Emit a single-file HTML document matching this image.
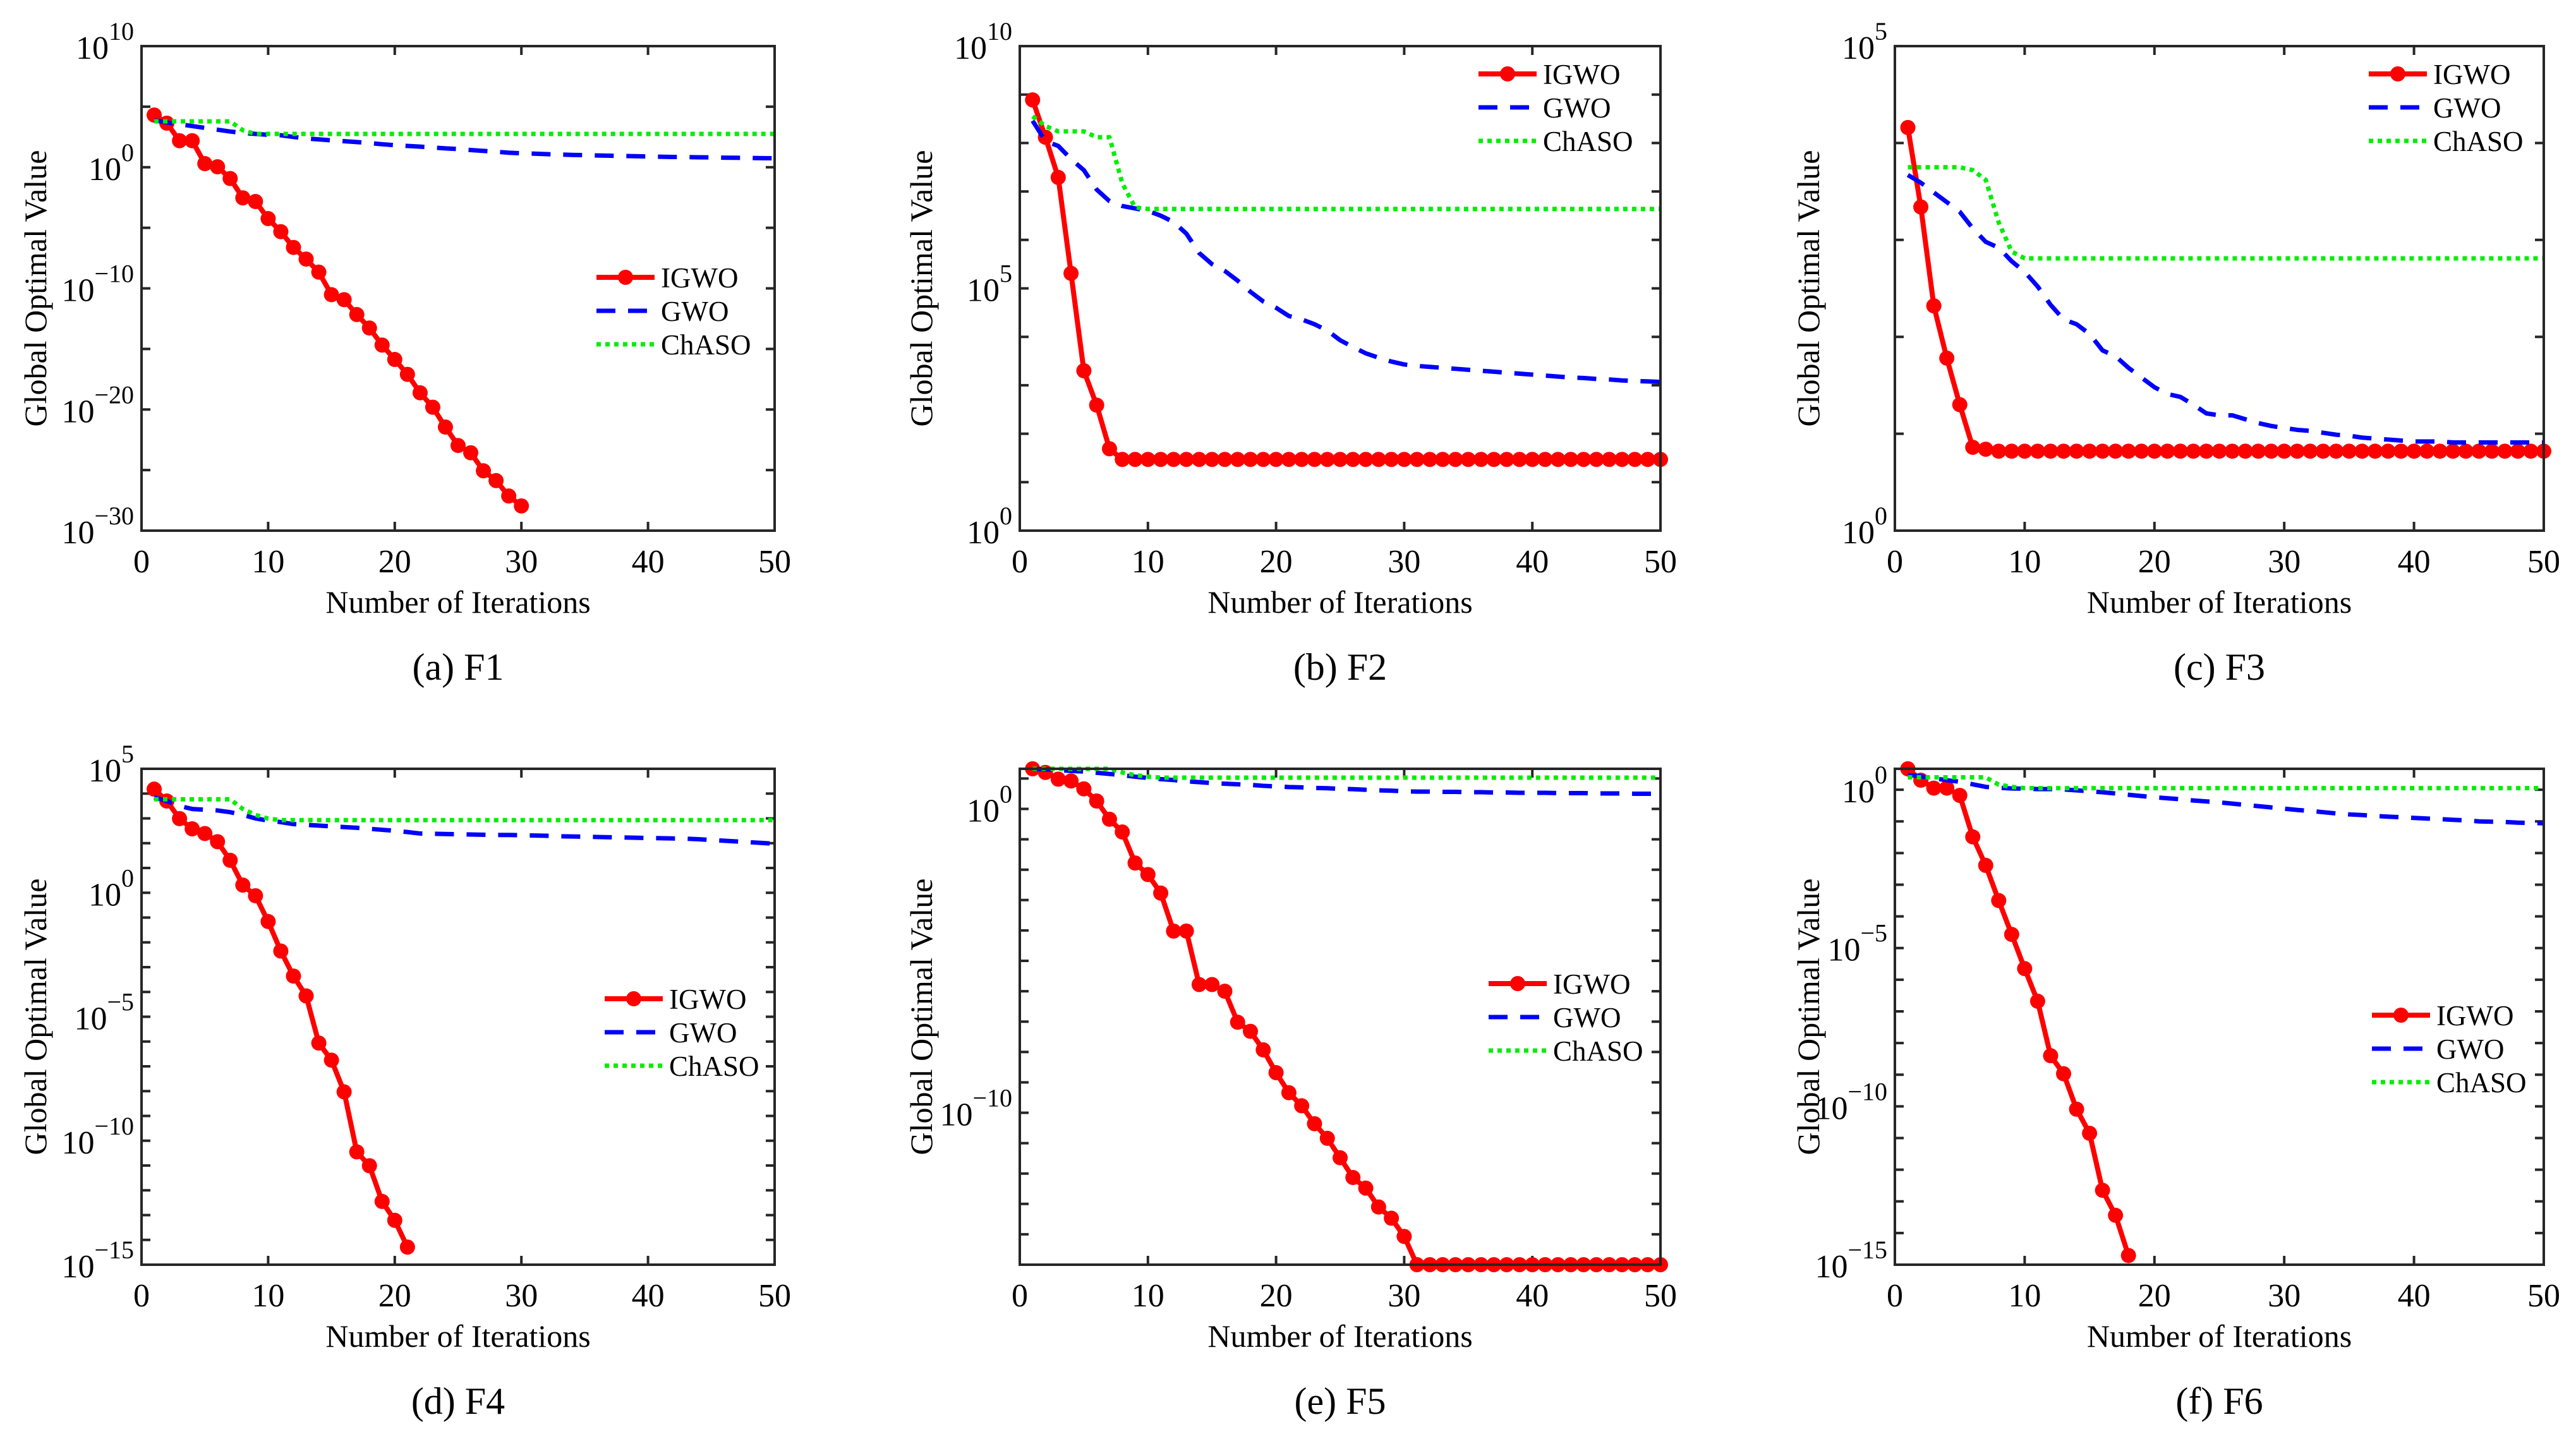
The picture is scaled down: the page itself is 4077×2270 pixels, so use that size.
<!DOCTYPE html>
<html><head><meta charset="utf-8">
<style>
html,body{margin:0;padding:0;background:#fff;}
svg{display:block;}
text{font-family:"Liberation Serif","Times New Roman",serif;fill:#000;}
</style></head>
<body>
<svg id="fig" width="4077" height="2270" viewBox="0 0 4077 2270" xmlns="http://www.w3.org/2000/svg"></svg>
<script>
// ---- data (log10 of global optimal value), iterations start at 1 ----
const iterMax = 50;
const seriesNames = ["IGWO","GWO","ChASO"];
const xTicks = [0,10,20,30,40,50];

const igwoA = [4.31,3.64,2.19,2.19,0.30,0.04,-0.93,-2.53,-2.83,-4.24,-5.32,-6.62,-7.58,-8.66,-10.52,-10.93,-12.16,-13.27,-14.68,-15.87,-17.10,-18.62,-19.81,-21.45,-22.97,-23.57,-25.06,-25.87,-27.14,-27.96];
const gwoA = [3.87,3.7,3.55,3.4,3.25,3.1,2.95,2.83,2.75,2.68,2.64,2.5,2.38,2.3,2.22,2.15,2.08,2.0,1.9,1.82,1.76,1.7,1.63,1.56,1.5,1.42,1.35,1.28,1.2,1.15,1.12,1.08,1.05,1.02,1.0,0.97,0.95,0.93,0.91,0.89,0.87,0.85,0.84,0.82,0.81,0.79,0.78,0.77,0.75,0.74];
const chasoA = [3.79,3.79,3.79,3.79,3.79,3.79,3.79,3.05,2.75,2.75,2.75,2.75,2.75,2.75,2.75,2.75,2.75,2.75,2.75,2.75,2.75,2.75,2.75,2.75,2.75,2.75,2.75,2.75,2.75,2.75,2.75,2.75,2.75,2.75,2.75,2.75,2.75,2.75,2.75,2.75,2.75,2.75,2.75,2.75,2.75,2.75,2.75,2.75,2.75,2.75];

const igwoB = [8.89,8.12,7.29,5.31,3.30,2.59,1.69,1.47,1.47,1.47,1.47,1.47,1.47,1.47,1.47,1.47,1.47,1.47,1.47,1.47,1.47,1.47,1.47,1.47,1.47,1.47,1.47,1.47,1.47,1.47,1.47,1.47,1.47,1.47,1.47,1.47,1.47,1.47,1.47,1.47,1.47,1.47,1.47,1.47,1.47,1.47,1.47,1.47,1.47,1.47];
const gwoB = [8.46,8.04,7.94,7.67,7.44,7.04,6.80,6.70,6.65,6.60,6.50,6.37,6.13,5.73,5.50,5.36,5.16,4.93,4.73,4.60,4.43,4.36,4.26,4.13,3.93,3.79,3.66,3.57,3.49,3.43,3.40,3.38,3.36,3.34,3.32,3.30,3.28,3.26,3.24,3.22,3.20,3.18,3.16,3.15,3.13,3.12,3.10,3.09,3.08,3.07];
const chasoB = [8.55,8.35,8.24,8.24,8.24,8.12,8.12,7.17,6.67,6.64,6.64,6.64,6.64,6.64,6.64,6.64,6.64,6.64,6.64,6.64,6.64,6.64,6.64,6.64,6.64,6.64,6.64,6.64,6.64,6.64,6.64,6.64,6.64,6.64,6.64,6.64,6.64,6.64,6.64,6.64,6.64,6.64,6.64,6.64,6.64,6.64,6.64,6.64,6.64,6.64];

const igwoC = [4.16,3.34,2.32,1.78,1.30,0.86,0.84,0.82,0.82,0.82,0.82,0.82,0.82,0.82,0.82,0.82,0.82,0.82,0.82,0.82,0.82,0.82,0.82,0.82,0.82,0.82,0.82,0.82,0.82,0.82,0.82,0.82,0.82,0.82,0.82,0.82,0.82,0.82,0.82,0.82,0.82,0.82,0.82,0.82,0.82,0.82,0.82,0.82,0.82,0.82];
const gwoC = [3.67,3.59,3.49,3.39,3.29,3.12,2.98,2.92,2.78,2.67,2.52,2.33,2.18,2.13,2.03,1.86,1.80,1.68,1.58,1.48,1.41,1.38,1.30,1.21,1.19,1.19,1.15,1.11,1.08,1.06,1.04,1.03,1.01,0.99,0.98,0.96,0.95,0.94,0.93,0.92,0.92,0.92,0.91,0.91,0.91,0.91,0.91,0.91,0.91,0.91];
const chasoC = [3.75,3.75,3.75,3.75,3.75,3.72,3.62,3.18,2.88,2.81,2.81,2.81,2.81,2.81,2.81,2.81,2.81,2.81,2.81,2.81,2.81,2.81,2.81,2.81,2.81,2.81,2.81,2.81,2.81,2.81,2.81,2.81,2.81,2.81,2.81,2.81,2.81,2.81,2.81,2.81,2.81,2.81,2.81,2.81,2.81,2.81,2.81,2.81,2.81,2.81];

const igwoD = [4.18,3.70,2.99,2.58,2.39,2.06,1.31,0.31,-0.12,-1.16,-2.35,-3.36,-4.16,-6.06,-6.75,-8.03,-10.45,-11.01,-12.45,-13.21,-14.29];
const gwoD = [3.85,3.7,3.5,3.38,3.35,3.32,3.25,3.14,3.0,2.91,2.85,2.77,2.74,2.71,2.68,2.65,2.62,2.58,2.54,2.5,2.45,2.39,2.38,2.37,2.36,2.35,2.34,2.33,2.33,2.32,2.31,2.3,2.28,2.27,2.26,2.25,2.24,2.23,2.22,2.21,2.2,2.19,2.18,2.16,2.13,2.1,2.07,2.04,2.01,1.98];
const chasoD = [3.77,3.77,3.77,3.77,3.77,3.77,3.77,3.38,3.14,2.99,2.93,2.93,2.93,2.93,2.93,2.93,2.93,2.93,2.93,2.93,2.93,2.93,2.93,2.93,2.93,2.93,2.93,2.93,2.93,2.93,2.93,2.93,2.93,2.93,2.93,2.93,2.93,2.93,2.93,2.93,2.93,2.93,2.93,2.93,2.93,2.93,2.93,2.93,2.93,2.93];

const igwoE = [1.32,1.2,0.98,0.92,0.66,0.26,-0.34,-0.76,-1.78,-2.16,-2.77,-4.02,-4.02,-5.78,-5.78,-6.0,-7.02,-7.32,-7.93,-8.68,-9.34,-9.77,-10.36,-10.84,-11.48,-12.13,-12.48,-13.1,-13.47,-14.07,-15,-15,-15,-15,-15,-15,-15,-15,-15,-15,-15,-15,-15,-15,-15,-15,-15,-15,-15,-15];
const gwoE = [1.32,1.3,1.28,1.25,1.23,1.19,1.15,1.11,1.06,1.02,0.98,0.95,0.91,0.88,0.85,0.83,0.81,0.79,0.76,0.74,0.72,0.71,0.69,0.68,0.66,0.65,0.63,0.61,0.6,0.58,0.57,0.57,0.56,0.56,0.55,0.55,0.54,0.54,0.53,0.53,0.53,0.52,0.52,0.52,0.51,0.51,0.51,0.5,0.5,0.5];
const chasoE = [1.32,1.32,1.32,1.32,1.32,1.32,1.32,1.2,1.11,1.06,1.03,1.03,1.03,1.03,1.03,1.03,1.03,1.03,1.03,1.03,1.03,1.03,1.03,1.03,1.03,1.03,1.03,1.03,1.03,1.03,1.03,1.03,1.03,1.03,1.03,1.03,1.03,1.03,1.03,1.03,1.03,1.03,1.03,1.03,1.03,1.03,1.03,1.03,1.03,1.03];

const igwoF = [0.66,0.30,0.05,0.05,-0.18,-1.49,-2.39,-3.50,-4.57,-5.65,-6.68,-8.40,-8.97,-10.09,-10.85,-12.65,-13.44,-14.71];
const gwoF = [0.47,0.42,0.36,0.3,0.25,0.17,0.09,0.06,0.04,0.03,0.02,0.02,0.01,-0.02,-0.05,-0.08,-0.12,-0.16,-0.2,-0.24,-0.27,-0.3,-0.34,-0.37,-0.4,-0.44,-0.48,-0.52,-0.56,-0.6,-0.64,-0.67,-0.71,-0.75,-0.78,-0.8,-0.83,-0.85,-0.87,-0.89,-0.91,-0.93,-0.95,-0.97,-1.0,-1.01,-1.02,-1.04,-1.05,-1.06];
const chasoF = [0.39,0.39,0.39,0.39,0.39,0.39,0.39,0.16,0.09,0.05,0.05,0.05,0.05,0.05,0.05,0.05,0.05,0.05,0.05,0.05,0.05,0.05,0.05,0.05,0.05,0.05,0.05,0.05,0.05,0.05,0.05,0.05,0.05,0.05,0.05,0.05,0.05,0.05,0.05,0.05,0.05,0.05,0.05,0.05,0.05,0.05,0.05,0.05,0.05,0.05];

const yTicksA = [-30,-25,-20,-15,-10,-5,0,5,10], yLabelsA = [-30,-20,-10,0,10];
const yTicksB = [0,1,2,3,4,5,6,7,8,9,10], yLabelsB = [0,5,10];
const yTicksC = [0,1,2,3,4,5], yLabelsC = [0,5];
const yTicksD = [-15,-14,-13,-12,-11,-10,-9,-8,-7,-6,-5,-4,-3,-2,-1,0,1,2,3,4,5], yLabelsD = [-15,-10,-5,0,5];
const yTicksE = [-15,-14,-13,-12,-11,-10,-9,-8,-7,-6,-5,-4,-3,-2,-1,0,1], yLabelsE = [-10,0];
const yTicksF = [-15,-14,-13,-12,-11,-10,-9,-8,-7,-6,-5,-4,-3,-2,-1,0], yLabelsF = [-15,-10,-5,0];
const captions = ["(a) F1","(b) F2","(c) F3","(d) F4","(e) F5","(f) F6"];

// ---- layout ----
const NS = "http://www.w3.org/2000/svg";
const svg = document.getElementById("fig");
function mk(tag, attrs, parent){ const e=document.createElementNS(NS,tag); for(const k in attrs) e.setAttribute(k,attrs[k]); (parent||svg).appendChild(e); return e; }

const panels = [
 {id:"a", x0:224,x1:1226,y0:73,y1:840, ymin:-30,ymax:10, ticks:yTicksA, labels:yLabelsA, data:[igwoA,gwoA,chasoA], leg:[944,439], ylab:57, cap:0},
 {id:"b", x0:1614,x1:2628,y0:73,y1:840, ymin:0,ymax:10, ticks:yTicksB, labels:yLabelsB, data:[igwoB,gwoB,chasoB], leg:[2340,117], ylab:1459, cap:1},
 {id:"c", x0:2999,x1:4026,y0:73,y1:840, ymin:0,ymax:5, ticks:yTicksC, labels:yLabelsC, data:[igwoC,gwoC,chasoC], leg:[3749,117], ylab:2863, cap:2},
 {id:"d", x0:224,x1:1226,y0:1217,y1:2002, ymin:-15,ymax:5, ticks:yTicksD, labels:yLabelsD, data:[igwoD,gwoD,chasoD], leg:[957,1581], ylab:57, cap:3},
 {id:"e", x0:1614,x1:2628,y0:1217,y1:2002, ymin:-15,ymax:1.32, ticks:yTicksE, labels:yLabelsE, data:[igwoE,gwoE,chasoE], leg:[2356,1557], ylab:1459, cap:4},
 {id:"f", x0:2999,x1:4026,y0:1217,y1:2002, ymin:-15,ymax:0.66, ticks:yTicksF, labels:yLabelsF, data:[igwoF,gwoF,chasoF], leg:[3754,1607], ylab:2863, cap:5}
];
const styles = [
 {stroke:"#ff0000", w:8, dash:null},
 {stroke:"#0000ff", w:7, dash:"30 20"},
 {stroke:"#00ee00", w:7, dash:"7 7"}
];

panels.forEach(p=>{
  const g = mk("g",{});
  
  
  const sx = v => p.x0 + (v/iterMax)*(p.x1-p.x0);
  const sy = v => p.y1 - (v-p.ymin)/(p.ymax-p.ymin)*(p.y1-p.y0);
  const clip = mk("clipPath",{id:"clip"+p.id},g);
  mk("rect",{x:p.x0,y:p.y0-14,width:p.x1-p.x0+14,height:p.y1-p.y0+28},clip);

  xTicks.forEach(t=>{
    const x=sx(t);
    const tk = mk("path",{d:`M${x},${p.y1}v-14M${x},${p.y0}v14`,stroke:"#262626","stroke-width":4},g);
    
    
    const tl = mk("text",{x:x,y:p.y1+66,"font-size":52,"text-anchor":"middle"},g);
    tl.textContent = t;
    
    
  });
  p.ticks.forEach(t=>{
    const y=sy(t);
    const tk = mk("path",{d:`M${p.x0},${y}h14M${p.x1},${y}h-14`,stroke:"#262626","stroke-width":4},g);
    
    
  });
  p.labels.forEach(t=>{
    const y=sy(t);
    const tl = mk("text",{x:p.x0-12,y:y+20,"font-size":52,"text-anchor":"end"},g);
    const b = mk("tspan",{},tl); b.textContent="10";
    const e = mk("tspan",{dy:-30,"font-size":40},tl); e.textContent=(t<0?"\u2212"+(-t):String(t));
    
    
  });

  p.data.forEach((arr,si)=>{
    const st=styles[si];
    const pts = arr.map((v,i)=>[sx(i+1),sy(v)]);
    const pl = mk("polyline",{points:pts.map(q=>q.join(",")).join(" "),fill:"none",stroke:st.stroke,"stroke-width":st.w,"stroke-linejoin":"round","clip-path":`url(#clip${p.id})`},g);
    if(st.dash) pl.setAttribute("stroke-dasharray",st.dash);
    
    
    if(si===0){
      pts.forEach(q=>{
        const c = mk("circle",{cx:q[0],cy:q[1],r:12,fill:st.stroke},g);
        
        
      });
    }
  });

  const box = mk("rect",{x:p.x0,y:p.y0,width:p.x1-p.x0,height:p.y1-p.y0,fill:"none",stroke:"#262626","stroke-width":4},g);
  
  

  const lg = mk("g",{},g);
  
  
  seriesNames.forEach((nm,si)=>{
    const st=styles[si];
    const y = p.leg[1] + si*53;
    const ln = mk("line",{x1:p.leg[0],x2:p.leg[0]+92,y1:y,y2:y,stroke:st.stroke,"stroke-width":st.w},lg);
    if(st.dash) ln.setAttribute("stroke-dasharray",st.dash);
    
    
    if(si===0){ mk("circle",{cx:p.leg[0]+46,cy:y,r:12,fill:st.stroke},lg); }
    const t = mk("text",{x:p.leg[0]+102,y:y+16,"font-size":45},lg);
    t.textContent = nm;
    
    
  });

  const xt = mk("text",{x:(p.x0+p.x1)/2,y:p.y1+130,"font-size":50,"text-anchor":"middle"},g);
  xt.textContent="Number of Iterations";
  
  
  const cy=(p.y0+p.y1)/2;
  const yt = mk("text",{x:p.ylab+16,y:cy,"font-size":50,"text-anchor":"middle",transform:`rotate(-90 ${p.ylab+16} ${cy})`},g);
  yt.textContent="Global Optimal Value";
  
  
  const cp = mk("text",{x:(p.x0+p.x1)/2,y:p.y1+236,"font-size":60,"text-anchor":"middle"},g);
  cp.textContent=captions[p.cap];
  
  
});
</script>
</body></html>
